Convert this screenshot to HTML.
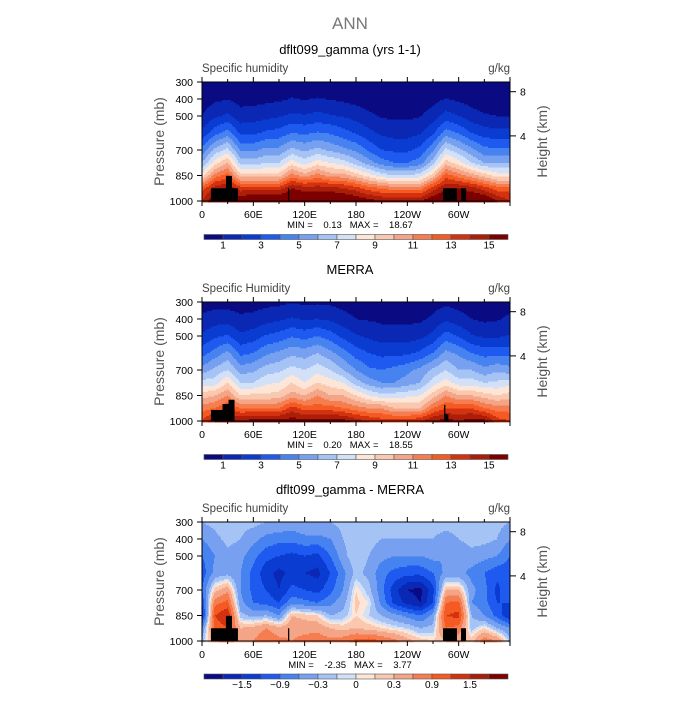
<!DOCTYPE html>
<html><head><meta charset="utf-8"><style>
body{margin:0;background:#fff;}
svg text{font-family:"Liberation Sans",sans-serif;}
</style></head><body>
<svg id="fig" width="700" height="700" viewBox="0 0 700 700" xmlns="http://www.w3.org/2000/svg">
<rect width="700" height="700" fill="#fff"/>
<text x="350" y="29" text-anchor="middle" font-size="17" fill="#777">ANN</text>
</svg>
<script>
const lons=[0,15,30,45,60,75,90,105,120,135,150,165,180,195,210,225,240,255,270,285,300,315,330,345,360];
const levels=[1000,925,850,775,700,600,500,400,300];
const modelQ=[
[14,16,16,16,16.5,16.5,16.5,16.5,16.5,16.5,16.5,16.5,16,15.5,15,15,15,15,16,16.5,16,16.5,16.5,15,14],
[12.5,14.5,15,13.5,13.5,13.5,13.5,15,14.5,14.5,14.5,14,13.5,12.5,12,11.5,11.5,11.5,13.5,15,15,14.5,13.5,12.5,12.5],
[8.5,11.5,12.5,9.5,9.5,9.5,9.5,11.5,10.5,11.5,10.5,10.5,9.5,8.5,7.5,7,7,7.5,9.5,12.5,11.5,10.5,9.5,8.5,8.5],
[6,8.5,10,6.5,6.5,7,7,8.5,7.5,8.5,8,7.5,6.5,5.5,4.5,4,4,4.5,6.5,9.5,8.5,7,6,6,6],
[4.3,6.3,7.3,4.8,4.8,5.3,5.3,6.3,5.8,6.3,5.8,5.3,4.8,3.8,3,2.8,2.8,3.3,4.8,7.3,6.3,5.3,4.3,4.3,4.3],
[2.3,3.6,4.5,2.8,2.8,3.2,3.4,4,3.8,4.1,3.9,3.4,2.9,2.3,1.8,1.6,1.6,1.9,2.8,4.5,3.9,3,2.5,2.3,2.3],
[1.0,1.8,2.2,1.4,1.5,1.7,1.9,2.2,2.1,2.3,2.1,1.9,1.6,1.2,0.9,0.8,0.8,0.95,1.5,2.4,2.0,1.4,1.1,1.0,1.0],
[0.45,0.8,0.95,0.65,0.65,0.75,0.85,1.05,0.95,1.05,0.95,0.8,0.65,0.5,0.4,0.35,0.35,0.4,0.65,1.05,0.8,0.6,0.45,0.45,0.45],
[0.2,0.3,0.4,0.25,0.25,0.3,0.35,0.45,0.4,0.45,0.4,0.35,0.25,0.2,0.15,0.15,0.15,0.15,0.25,0.45,0.3,0.2,0.2,0.2,0.2]];
const merraQ=[
[13,15,15.5,15,15.5,15.5,15.5,15.5,15.5,15.5,15.5,15.5,14.5,14,13.5,13.5,13.5,14,15,15.5,15,15.5,15.5,13.5,13],
[11.5,12,13,12,12,12,12,13.5,12.5,12.5,12.5,12,11.5,11,11,10,10,10,12,13,13,13,12,11.5,11.5],
[9.5,10,11,9,9.3,9.2,9.5,10.5,10,11,10,10,9,8,7.3,7.5,7.7,8,9.5,11,10,10,9.5,9,9.5],
[7.5,7.5,9,7,7,7.8,8,9,8,9,8.5,8,6.5,5.5,5,5,5.5,6,7.5,8.5,7.5,7.5,7,7.2,7.5],
[5.4,6.3,7,5.5,5.8,6.5,6.8,7.4,7,7.6,7,6,5,4.2,4,4.3,4.7,5.3,6.2,7,6,6,5.3,5.8,5.4],
[3.6,4.4,5.3,3.7,4,4.8,5.2,5.7,5.5,6,5.3,4.4,3.5,3,2.7,2.7,2.8,3.2,4,5.3,4.8,4,3.6,3.6,3.6],
[2.1,2.8,3.1,2.2,2.5,3.1,3.4,3.9,3.6,4,3.5,2.7,2.1,1.8,1.5,1.5,1.5,1.7,2.3,3.5,2.9,2.1,1.8,1.8,2.1],
[1.2,1.5,1.5,1.2,1.3,1.6,1.8,2.1,1.9,2,1.8,1.4,1,0.9,0.8,0.75,0.75,0.8,1.2,1.8,1.4,1,0.8,0.9,1.2],
[0.55,0.6,0.6,0.55,0.55,0.7,0.75,0.95,0.8,0.85,0.8,0.6,0.45,0.4,0.35,0.35,0.35,0.35,0.55,0.75,0.6,0.4,0.35,0.45,0.55]];
const diffQ=[
[-0.2,0.5,0.8,0.4,0.6,0.9,0.7,0.6,0.7,0.8,0.7,0.8,1.0,1.1,0.9,0.7,0.4,0.2,0.1,0.3,0.4,0.2,0.8,0.6,-0.2],
[-0.6,1.0,1.2,0.3,0.4,0.6,0.4,0.5,0.5,0.5,0.3,0.2,0.3,0.2,0.1,0.0,-0.1,-0.3,-0.2,0.9,0.8,-0.2,0.1,-0.3,-0.6],
[-1.5,1.2,1.5,-0.2,-0.4,-0.3,-0.6,0.3,0.2,0.1,-0.3,-0.2,0.1,-0.1,-0.3,-0.5,-0.7,-0.9,-0.5,1.2,1.3,-0.3,-0.6,-1.0,-1.5],
[-1.2,0.8,1.0,-0.5,-0.9,-1.0,-1.2,-0.7,-0.8,-0.9,-0.7,-0.4,0.15,0.0,-0.7,-1.3,-1.6,-1.8,-1.2,0.9,1.0,-0.6,-0.8,-1.2,-1.2],
[-0.9,0.2,0.5,-0.6,-1.0,-1.2,-1.5,-1.1,-1.2,-1.3,-1.0,-0.6,0.1,-0.2,-0.8,-1.4,-1.8,-1.9,-1.3,0.3,0.3,-0.5,-0.8,-1.3,-0.9],
[-1.1,-0.5,-0.4,-0.6,-1.0,-1.4,-1.6,-1.4,-1.5,-1.6,-1.2,-0.7,-0.2,-0.4,-0.8,-1.0,-1.1,-1.1,-0.9,-0.5,-0.5,-0.7,-0.9,-1.1,-1.1],
[-0.9,-0.6,-0.4,-0.5,-0.8,-1.1,-1.2,-1.3,-1.2,-1.3,-0.9,-0.4,-0.1,-0.3,-0.5,-0.6,-0.6,-0.6,-0.5,-0.6,-0.5,-0.4,-0.5,-0.6,-0.9],
[-0.6,-0.4,-0.2,-0.3,-0.5,-0.7,-0.8,-0.8,-0.7,-0.7,-0.6,-0.3,-0.1,-0.2,-0.3,-0.3,-0.3,-0.3,-0.3,-0.4,-0.3,-0.2,-0.2,-0.3,-0.6],
[-0.3,-0.2,-0.1,-0.2,-0.2,-0.3,-0.3,-0.4,-0.3,-0.3,-0.3,-0.2,-0.1,-0.1,-0.15,-0.15,-0.15,-0.15,-0.2,-0.2,-0.2,-0.1,-0.1,-0.2,-0.3]];
const qLevels=[1,2,3,4,5,6,7,8,9,10,11,12,13,14,15];
const qLabels=["1","3","5","7","9","11","13","15"];
const dLevels=[-1.8,-1.5,-1.2,-0.9,-0.6,-0.3,-0.1,0,0.1,0.3,0.6,0.9,1.2,1.5,1.8];
const dLabels=["-1.5","-0.9","-0.3","0","0.3","0.9","1.5"];
const dLabelIdx=[1,3,5,7,9,11,13];
const qLabelIdx=[0,2,4,6,8,10,12,14];
const lonTicks=[0,60,120,180,240,300];
const lonTickLabels=["0","60E","120E","180","120W","60W"];
const presTicks=[300,400,500,700,850,1000];
const heightTicks=[8,4];
const heightTickP=[357,617];
const maskModel=[[10.5,42,925],[28,35,852],[100.5,102,925],[281.7,298,925],[302.7,308.6,925]];
const maskMerra=[[10.5,25,935],[24,31,900],[31,38,875],[283,284.5,905],[284.5,288,960]];
const panelTitles=["dflt099_gamma (yrs 1-1)","MERRA","dflt099_gamma - MERRA"];
const varNames=["Specific humidity","Specific Humidity","Specific humidity"];
const minmax=[["0.13","18.67"],["0.20","18.55"],["-2.35","3.77"]];
const colors=["#0a0a82","#0a28b4","#0a3cd2","#1e5af0","#4682f0","#78a0f0","#a5c3f5","#d2e1f8","#fde6d7","#fac8af","#f5a587","#f57d50","#f55a23","#d23210","#aa1e0a","#7d0000"];

const NS="http://www.w3.org/2000/svg";
const svg=document.getElementById('fig');
function mk(tag,attrs,parent){const e=document.createElementNS(NS,tag);for(const k in attrs)e.setAttribute(k,attrs[k]);(parent||svg).appendChild(e);return e;}
const X0=202,X1=510,PH=119;
function xS(lon){return X0+lon/360*(X1-X0);}
function yS(p,top){return top+(p-300)/700*PH;}
function interp(grid,lon,p){
  let i=Math.min(Math.floor(lon/15),lons.length-2);let fx=(lon-lons[i])/15;
  let j=0;while(j<levels.length-2&&p<levels[j+1])j++;
  let fy=(levels[j]-p)/(levels[j]-levels[j+1]);fy=Math.max(0,Math.min(1,fy));
  const a=grid[j][i]*(1-fx)+grid[j][i+1]*fx,b=grid[j+1][i]*(1-fx)+grid[j+1][i+1]*fx;
  return a*(1-fy)+b*fy;}
function cls(v,lv){let k=0;while(k<lv.length&&v>=lv[k])k++;return k;}

function panel(idx,top,grid,lv,masks,cbTop,labs,labIdx){
  const g=mk('g',{});
  
  
  const t=mk('text',{x:350,y:top-28,'text-anchor':'middle','font-size':13,fill:'#000'},g);t.textContent=panelTitles[idx];
  
  const vn=mk('text',{x:202,y:top-10,'font-size':11.5,fill:'#444'},g);vn.textContent=varNames[idx];
  
  const un=mk('text',{x:510,y:top-10,'text-anchor':'end','font-size':11.5,fill:'#444'},g);un.textContent='g/kg';
  
  const field=mk('g',{},g);
  
  const step=1.5;
  for(let y=top;y<top+PH;y+=step){
    const p=300+(y+step/2-top)/PH*700;
    let run=null,rs=0;
    for(let x=X0;x<=X1;x+=1){
      let c=null;
      if(x<X1){const lon=(x+0.5-X0)/(X1-X0)*360;c=cls(interp(grid,lon,p),lv);}
      if(c!==run){
        if(run!==null){mk('rect',{x:rs,y:y,width:x-rs+0.4,height:step+0.4,fill:colors[run]},field);}
        run=c;rs=x;}
    }
  }
  masks.forEach(m=>{const r=mk('rect',{x:xS(m[0]),y:yS(m[2],top),width:xS(m[1])-xS(m[0]),height:top+PH-yS(m[2],top),fill:'#000'},g);
    });
  const fr=mk('rect',{x:X0,y:top,width:X1-X0,height:PH,fill:'none',stroke:'#000','stroke-width':1},g);
  
  for(let l=0;l<=360;l+=30){const x=xS(l);const len=l%60===0?5:3;
    mk('line',{x1:x,x2:x,y1:top+PH,y2:top+PH+len,stroke:'#000'},g);
    mk('line',{x1:x,x2:x,y1:top,y2:top-len,stroke:'#000'},g);}
  lonTicks.forEach((l,i)=>{const tx=mk('text',{x:xS(l),y:top+PH+17,'text-anchor':'middle','font-size':10.5,fill:'#000'},g);tx.textContent=lonTickLabels[i];
    });
  presTicks.forEach(p=>{const y=yS(p,top);mk('line',{x1:X0-5,x2:X0,y1:y,y2:y,stroke:'#000'},g);
    const tx=mk('text',{x:X0-9,y:y+4,'text-anchor':'end','font-size':10.5,fill:'#000'},g);tx.textContent=p;
    });
  heightTicks.forEach((h,i)=>{const y=yS(heightTickP[i],top);mk('line',{x1:X1,x2:X1+6,y1:y,y2:y,stroke:'#000'},g);
    const tx=mk('text',{x:X1+10,y:y+4,'font-size':10.5,fill:'#000'},g);tx.textContent=h;
    });
  const ya=mk('text',{x:0,y:0,'text-anchor':'middle','font-size':14,fill:'#555',transform:`translate(164,${top+PH/2}) rotate(-90)`},g);ya.textContent='Pressure (mb)';
  
  const ha=mk('text',{x:0,y:0,'text-anchor':'middle','font-size':14,fill:'#555',transform:`translate(547,${top+PH/2}) rotate(-90)`},g);ha.textContent='Height (km)';
  
  const mm=mk('text',{x:350,y:top+PH+27,'text-anchor':'middle','font-size':9.5,fill:'#000',style:'white-space:pre'},g);
  mm.textContent='MIN =    '+minmax[idx][0]+'   MAX =    '+minmax[idx][1];
  
  const cb=mk('g',{},g);
  const bw=(508-204)/16;
  colors.forEach((c,k)=>{mk('rect',{x:204+k*bw,y:cbTop,width:bw,height:5,fill:c,stroke:'#555','stroke-width':0.6},cb);});
  labs.forEach((s,k)=>{const tx=mk('text',{x:204+(labIdx[k]+1)*bw,y:cbTop+14,'text-anchor':'middle','font-size':10,fill:'#000'},cb);tx.textContent=s.replace('-','\u2212');
    });
}
panel(0,82,modelQ,qLevels,maskModel,234.5,qLabels,qLabelIdx);
panel(1,302,merraQ,qLevels,maskMerra,454.5,qLabels,qLabelIdx);
panel(2,522,diffQ,dLevels,maskModel,674,dLabels,dLabelIdx);
</script>
</body></html>
